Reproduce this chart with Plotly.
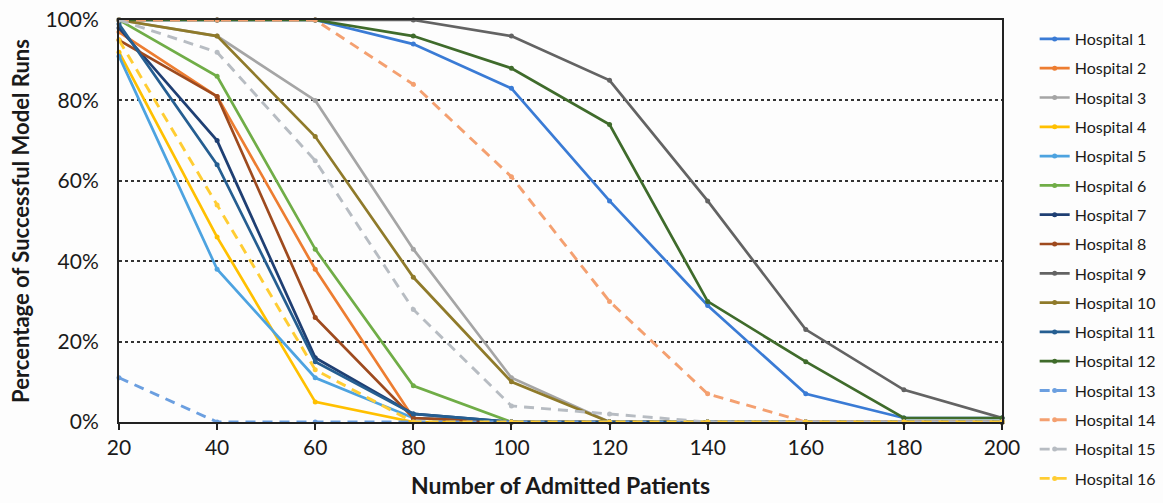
import plotly.graph_objects as go

patients = [20, 40, 60, 80, 100, 120, 140, 160, 180, 200]
y_ticks = [0, 20, 40, 60, 80, 100]
y_tick_labels = ["0%", "20%", "40%", "60%", "80%", "100%"]

hospital_names = [f"Hospital {i}" for i in range(1, 17)]

h1 = [100, 100, 100, 94, 83, 55, 29, 7, 1, 1]
h2 = [97, 81, 38, 1, 0, 0, 0, 0, 0, 0]
h3 = [100, 96, 80, 43, 11, 0, 0, 0, 0, 0]
h4 = [92, 46, 5, 0, 0, 0, 0, 0, 0, 0]
h5 = [91, 38, 11, 1, 0, 0, 0, 0, 0, 0]
h6 = [100, 86, 43, 9, 0, 0, 0, 0, 0, 0]
h7 = [98, 70, 16, 2, 0, 0, 0, 0, 0, 0]
h8 = [95, 81, 26, 1, 0, 0, 0, 0, 0, 0]
h9 = [100, 100, 100, 100, 96, 85, 55, 23, 8, 1]
h10 = [100, 96, 71, 36, 10, 0, 0, 0, 0, 0]
h11 = [99, 64, 15, 2, 0, 0, 0, 0, 0, 0]
h12 = [100, 100, 100, 96, 88, 74, 30, 15, 1, 1]
h13 = [11, 0, 0, 0, 0, 0, 0, 0, 0, 0]
h14 = [100, 100, 100, 84, 61, 30, 7, 0, 0, 0]
h15 = [100, 92, 65, 28, 4, 2, 0, 0, 0, 0]
h16 = [95, 54, 13, 0, 0, 0, 0, 0, 0, 0]

series = [h1, h2, h3, h4, h5, h6, h7, h8, h9, h10, h11, h12, h13, h14, h15, h16]

colors = ["#3a7bd5", "#ed7d31", "#a5a5a5", "#ffc000", "#4da3e0", "#70ad47",
          "#1f3f73", "#9e4a1e", "#636363", "#8f7a2a", "#255e91", "#3f6b2b",
          "#6b9fe0", "#f4a070", "#b7bcc2", "#ffcd33"]
dashed = [False] * 12 + [True] * 4

fig = go.Figure()
for i, (name, vals) in enumerate(zip(hospital_names, series)):
    fig.add_trace(go.Scatter(
        x=patients, y=vals, name=name, mode="lines+markers",
        legendgroup=name,
        line=dict(color=colors[i], width=2.7 if not dashed[i] else 2.9,
                  dash="10px,7px" if dashed[i] else "solid"),
        marker=dict(size=5, color=colors[i]),
        cliponaxis=False,
    ))

font_family = "Lato, 'Open Sans', sans-serif"

fig.update_layout(
    width=1163, height=503,
    margin=dict(l=119, r=161, t=20, b=81, autoexpand=False),
    paper_bgcolor="#fdfdfd",
    plot_bgcolor="#fdfdfd",
    font=dict(family=font_family, color="#1a1a1a"),
    legend=dict(
        x=1.037, y=0.995, xanchor="left", yanchor="top",
        font=dict(size=16, color="#1a1a1a"),
        tracegroupgap=5.5,
        maxheight=495,
        bgcolor="rgba(0,0,0,0)",
    ),
    xaxis=dict(
        range=[20, 200], tickvals=patients, ticktext=[str(p) for p in patients],
        showgrid=False, zeroline=False,
        showline=True, linecolor="#222222", linewidth=2, mirror=True,
        ticks="outside", ticklen=6, tickwidth=2, tickcolor="#222222",
        tickfont=dict(size=21, color="#1a1a1a"),
        ticklabeloverflow="allow",
        title=dict(text="<b>Number of Admitted Patients</b>",
                   font=dict(size=23, color="#1a1a1a"), standoff=20),
    ),
    yaxis=dict(
        range=[0, 100], tickvals=y_ticks, ticktext=y_tick_labels,
        showgrid=True, gridcolor="#333333", griddash="dot", gridwidth=1.5,
        zeroline=False,
        showline=True, linecolor="#222222", linewidth=2, mirror=True,
        ticks="outside", ticklen=14, tickcolor="rgba(0,0,0,0)",
        tickfont=dict(size=21, color="#1a1a1a"),
        ticklabeloverflow="allow",
        title=dict(text="<b>Percentage of Successful Model Runs</b>",
                   font=dict(size=22, color="#1a1a1a"), standoff=10),
    ),
)

# remove the default 8px page margin so the figure fills the window exactly
fig.write_html(
    "out.html",
    config={"displayModeBar": False},
    post_script="document.body.style.margin='0px';document.body.style.overflow='hidden';",
)
